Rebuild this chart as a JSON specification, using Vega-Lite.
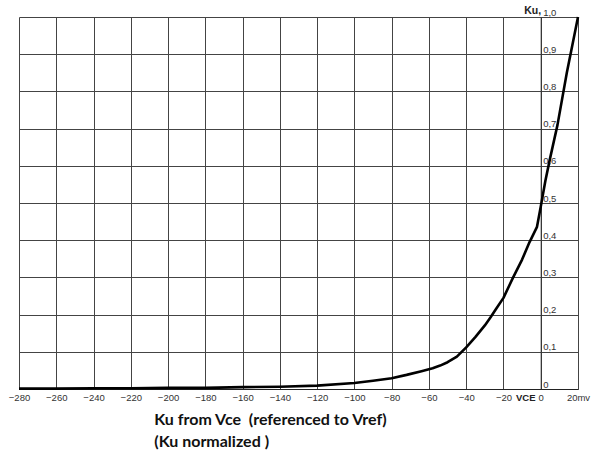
{
  "$schema": "https://vega.github.io/schema/vega-lite/v6.json",
  "autosize": "none",
  "width": 559,
  "height": 372,
  "padding": {"left": 19, "top": 17, "right": 16, "bottom": 63},
  "background": "white",
  "config": {"view": {"stroke": null}},
  "title": {
    "text": ["Ku from Vce \u00a0(referenced to Vref)", "\u00a0\u00a0(Ku normalized )"],
    "orient": "bottom",
    "anchor": "start",
    "align": "left",
    "dx": 146,
    "offset": 10,
    "font": "Lato",
    "fontSize": 16,
    "fontWeight": "bold",
    "color": "#111",
    "lineHeight": 22
  },
  "data": {
    "values": [
      {"vce": -280, "ku": 0.001},
      {"vce": -260, "ku": 0.001},
      {"vce": -240, "ku": 0.002},
      {"vce": -220, "ku": 0.002},
      {"vce": -200, "ku": 0.003},
      {"vce": -180, "ku": 0.003},
      {"vce": -160, "ku": 0.005},
      {"vce": -140, "ku": 0.006},
      {"vce": -120, "ku": 0.009},
      {"vce": -100, "ku": 0.016},
      {"vce": -90, "ku": 0.022},
      {"vce": -80, "ku": 0.029},
      {"vce": -72, "ku": 0.038},
      {"vce": -64, "ku": 0.048},
      {"vce": -58, "ku": 0.056},
      {"vce": -54, "ku": 0.063},
      {"vce": -50, "ku": 0.072},
      {"vce": -45, "ku": 0.087},
      {"vce": -40, "ku": 0.112},
      {"vce": -35, "ku": 0.14},
      {"vce": -30, "ku": 0.171},
      {"vce": -27, "ku": 0.192},
      {"vce": -24, "ku": 0.215},
      {"vce": -20, "ku": 0.245},
      {"vce": -15, "ku": 0.298},
      {"vce": -10, "ku": 0.348},
      {"vce": -6, "ku": 0.395},
      {"vce": -2, "ku": 0.436},
      {"vce": 0, "ku": 0.49},
      {"vce": 2.5, "ku": 0.56},
      {"vce": 5, "ku": 0.62},
      {"vce": 9, "ku": 0.71},
      {"vce": 14, "ku": 0.85},
      {"vce": 20, "ku": 1.0}
    ]
  },
  "mark": {"type": "line", "color": "#000", "strokeWidth": 2.6, "strokeJoin": "round", "clip": false},
  "encoding": {
    "x": {
      "field": "vce",
      "type": "quantitative",
      "scale": {"domain": [-280, 20], "nice": false, "zero": false},
      "axis": {
        "values": [-280, -260, -240, -220, -200, -180, -160, -140, -120, -100, -80, -60, -40, -20, 0, 20],
        "labelExpr": "datum.value == 20 ? '20mv' : datum.label",
        "format": "d",
        "grid": true,
        "gridColor": "#444",
        "gridOpacity": 1,
        "gridWidth": 1,
        "domain": true,
        "domainColor": "#222",
        "domainWidth": 1.2,
        "ticks": false,
        "labelPadding": 3,
        "labelFont": "Liberation Sans",
        "labelFontSize": 9.5,
        "labelColor": "#333",
        "labelFlush": false,
        "labelOverlap": false,
        "title": "VCE",
        "titleFont": "Liberation Sans",
        "titleFontSize": 9.5,
        "titleFontWeight": "bold",
        "titleColor": "#222",
        "titleX": 516,
        "titleY": 8,
        "titleAlign": "right",
        "titleBaseline": "middle",
        "titleAnchor": null
      }
    },
    "y": {
      "field": "ku",
      "type": "quantitative",
      "scale": {"domain": [0, 1], "nice": false},
      "axis": {
        "orient": "right",
        "offset": -37.3,
        "values": [0, 0.1, 0.2, 0.3, 0.4, 0.5, 0.6, 0.7, 0.8, 0.9, 1.0],
        "labelExpr": "datum.value == 0 ? '0' : replace(format(datum.value, '.1f'), '.', ',')",
        "grid": true,
        "gridColor": "#444",
        "gridOpacity": 1,
        "gridWidth": 1,
        "domain": true,
        "domainColor": "#333",
        "ticks": false,
        "labelPadding": 2,
        "labelAlign": "left",
        "labelBaseline": "bottom",
        "labelFont": "Liberation Sans",
        "labelFontSize": 9.5,
        "labelColor": "#333",
        "labelFlush": false,
        "labelOverlap": false,
        "title": "Ku,",
        "titleAngle": 0,
        "titleFont": "Liberation Sans",
        "titleFontSize": 10.5,
        "titleFontWeight": "bold",
        "titleColor": "#222",
        "titleX": 0,
        "titleY": -2,
        "titleAlign": "right",
        "titleBaseline": "bottom"
      }
    }
  }
}
